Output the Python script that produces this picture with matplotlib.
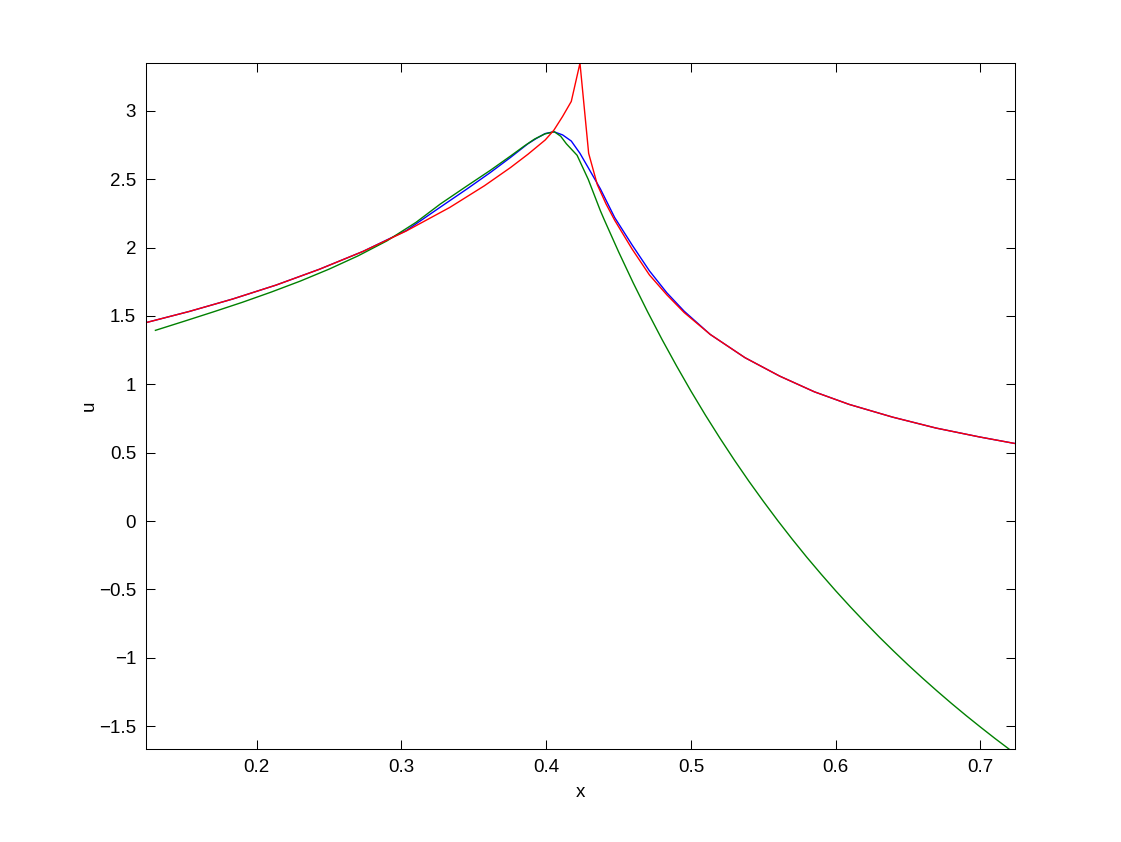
import matplotlib
matplotlib.use('Agg')
import matplotlib.pyplot as plt

# red curve
x_red = [0.1233, 0.1533, 0.1833, 0.2133, 0.2433, 0.2733, 0.3033, 0.3333, 0.3573, 0.3753,
         0.3873, 0.3993, 0.4053, 0.4113, 0.4173, 0.4233, 0.4293, 0.4353, 0.4413, 0.4473,
         0.4593, 0.4713, 0.4833, 0.4953, 0.5133, 0.5373, 0.5613, 0.5853, 0.6093, 0.6393,
         0.6693, 0.6993, 0.7233]
u_red = [1.451, 1.533, 1.624, 1.726, 1.842, 1.972, 2.122, 2.294, 2.453, 2.586,
         2.683, 2.788, 2.86, 2.96, 3.07, 3.35, 2.69, 2.46, 2.32, 2.20,
         1.99, 1.80, 1.655, 1.525, 1.365, 1.195, 1.06, 0.945, 0.853, 0.76,
         0.68, 0.615, 0.568]

# blue curve
x_blue = [0.1233, 0.1533, 0.1833, 0.2133, 0.2433, 0.2733, 0.3033, 0.3273, 0.3453, 0.3614,
          0.3753, 0.3873, 0.3933, 0.3993, 0.4053, 0.4113, 0.4173, 0.4233, 0.4293, 0.4374,
          0.4473, 0.4593, 0.4713, 0.4833, 0.4953, 0.5133, 0.5373, 0.5613, 0.5853, 0.6093,
          0.6393, 0.6693, 0.6993, 0.7233]
u_blue = [1.451, 1.533, 1.624, 1.726, 1.842, 1.972, 2.125, 2.30, 2.43, 2.55,
          2.66, 2.76, 2.80, 2.835, 2.848, 2.825, 2.78, 2.69, 2.58, 2.43,
          2.22, 2.02, 1.83, 1.67, 1.535, 1.365, 1.195, 1.06, 0.945, 0.853,
          0.76, 0.68, 0.615, 0.568]

# green curve
x_green = [0.130, 0.150, 0.170, 0.190, 0.210, 0.230, 0.250, 0.270, 0.290, 0.310,
           0.3269, 0.345, 0.3614, 0.375, 0.385, 0.392, 0.399, 0.4056, 0.410, 0.4139,
           0.4213, 0.429, 0.4374, 0.440, 0.450, 0.460, 0.470, 0.480, 0.490, 0.500,
           0.510, 0.520, 0.530, 0.540, 0.550, 0.560, 0.570, 0.580, 0.590, 0.600,
           0.610, 0.620, 0.630, 0.640, 0.650, 0.660, 0.670, 0.680, 0.690, 0.700,
           0.710, 0.720]
u_green = [1.395, 1.462, 1.530, 1.600, 1.675, 1.755, 1.843, 1.940, 2.050, 2.185,
           2.32, 2.45, 2.566, 2.668, 2.745, 2.795, 2.832, 2.848, 2.815, 2.76,
           2.676, 2.50, 2.27, 2.206, 1.969, 1.744, 1.531, 1.328, 1.135, 0.950,
           0.774, 0.606, 0.445, 0.291, 0.144, 0.002, -0.134, -0.265, -0.390, -0.511,
           -0.627, -0.739, -0.848, -0.952, -1.053, -1.150, -1.244, -1.335, -1.423, -1.508,
           -1.591, -1.671]

plt.rcParams['font.family'] = ['Liberation Sans', 'DejaVu Sans']
plt.rcParams['font.size'] = 13.5

fig = plt.figure(figsize=(11.21, 8.42), dpi=100)
ax = fig.add_axes([0.13, 0.11, 0.775, 0.815])

ax.plot(x_blue, u_blue, color=(0, 0, 1), linewidth=1.0)
ax.plot(x_green, u_green, color=(0, 0.5, 0), linewidth=1.0)
ax.plot(x_red, u_red, color=(1, 0, 0), linewidth=1.0)

ax.set_xlim(0.1233, 0.7235)
ax.set_ylim(-1.671, 3.35)
ax.set_xticks([0.2, 0.3, 0.4, 0.5, 0.6, 0.7])
ax.set_yticks([-1.5, -1, -0.5, 0, 0.5, 1, 1.5, 2, 2.5, 3])
ax.set_yticklabels(['\u22121.5', '\u22121', '\u22120.5', '0', '0.5', '1', '1.5', '2', '2.5', '3'])
ax.tick_params(direction='in', length=6.5, width=0.75, top=True, right=True, pad=7)
for s in ax.spines.values():
    s.set_linewidth(0.75)

ax.set_xlabel('x', labelpad=6)
ax.set_ylabel('u', labelpad=1)

fig.savefig('out.png', dpi=100)
